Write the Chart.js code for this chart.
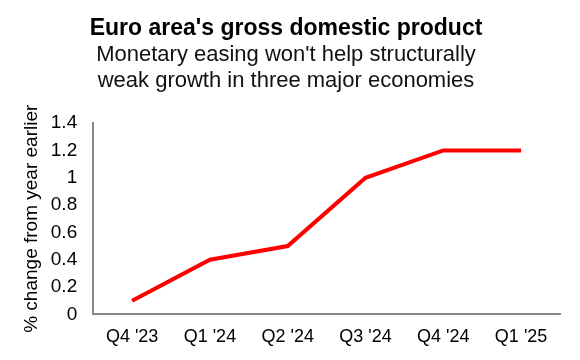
<!DOCTYPE html>
<html>
<head>
<meta charset="utf-8">
<script src="https://cdn.jsdelivr.net/npm/chart.js@4"></script>
<style>
    html, body { margin: 0; padding: 0; background: #fff; }
    #wrap { width: 580px; height: 360px; }
</style>
</head>
<body>
<div id="wrap"><canvas id="gdpChart"></canvas></div>
<script>
const quarters = ["Q4 '23", "Q1 '24", "Q2 '24", "Q3 '24", "Q4 '24", "Q1 '25"];
const gdpGrowth = [0.1, 0.4, 0.5, 1.0, 1.2, 1.2];
const yTicks = [0, 0.2, 0.4, 0.6, 0.8, 1, 1.2, 1.4];

const font = "'Liberation Sans', Arial, sans-serif";

new Chart(document.getElementById("gdpChart").getContext("2d"), {
    type: "line",
    data: {
        labels: quarters,
        datasets: [{
            label: "GDP",
            data: gdpGrowth,
            borderColor: "#ff0000",
            borderWidth: 4,
            pointRadius: 0,
            tension: 0
        }]
    },
    options: {
        responsive: true,
        maintainAspectRatio: false,
        animation: false,
        layout: { padding: { left: 12, right: 20, top: 8, bottom: 8 } },
        plugins: {
            legend: { display: false },
            tooltip: { enabled: false },
            title: {
                display: true,
                text: "Euro area's gross domestic product",
                color: "#000",
                font: { family: font, size: 23, weight: "bold", lineHeight: 1.1 },
                padding: { top: 8, bottom: 0 }
            },
            subtitle: {
                display: true,
                text: ["Monetary easing won't help structurally", "weak growth in three major economies"],
                color: "#111",
                font: { family: font, size: 22, lineHeight: 1.2 },
                padding: { top: 0, bottom: 29 }
            }
        },
        scales: {
            x: {
                offset: true,
                grid: { display: false },
                border: { display: true, color: "#888", width: 2 },
                ticks: { color: "#000", font: { family: font, size: 18 }, padding: 4 }
            },
            y: {
                min: 0,
                max: 1.4,
                grid: { display: false },
                border: { display: true, color: "#888", width: 2 },
                afterBuildTicks: axis => { axis.ticks = yTicks.map(v => ({ value: v })); },
                ticks: {
                    color: "#000",
                    font: { family: font, size: 19 },
                    padding: 8,
                    callback: v => String(v)
                },
                title: {
                    display: true,
                    text: "% change from year earlier",
                    color: "#000",
                    font: { family: font, size: 19 },
                    padding: { top: 8, bottom: 0 }
                }
            }
        }
    }
});
</script>
</body>
</html>
